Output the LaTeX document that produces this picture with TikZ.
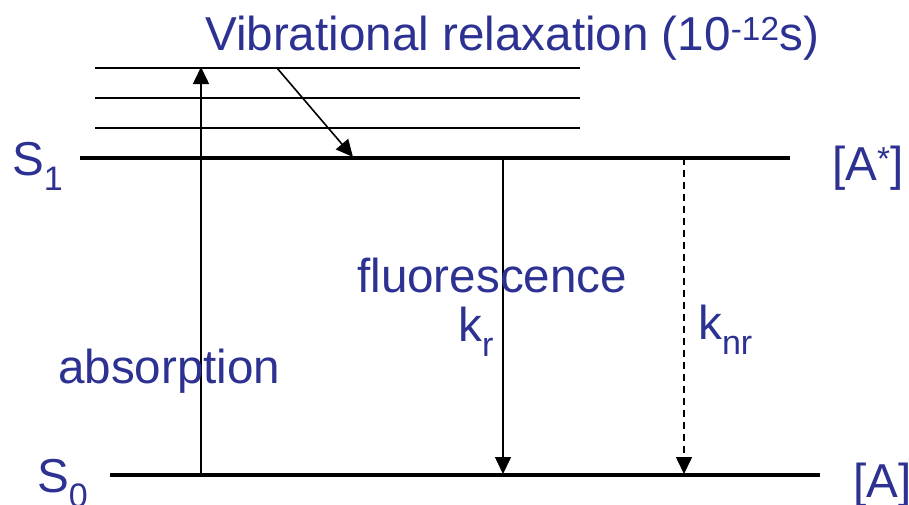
\documentclass[tikz,border=0pt]{standalone}
\usepackage{fontspec}
\setmainfont{Liberation Sans}
\usetikzlibrary{arrows.meta}
\definecolor{lbl}{RGB}{45,49,146}
\newcommand\lowsub[1]{\raisebox{-0.33em}{\fontsize{34}{36}\selectfont #1}}
\begin{document}
\begin{tikzpicture}[x=1pt,y=-1pt,
  lbltext/.style={text=lbl,font=\fontsize{47.6}{57}\selectfont,inner sep=0pt,anchor=base west},
  vib/.style={line width=1.8pt},
  level/.style={line width=4pt},
  trans/.style={line width=1.6pt,-{Triangle[width=16pt,length=17pt]}},
  nonrad/.style={trans,dash pattern=on 7pt off 5pt}]
\useasboundingbox (0,0) rectangle (909,504);
% vibrational levels
\coordinate (v1a) at (95,68);  \coordinate (v1b) at (580,68);
\coordinate (v2a) at (95,98);  \coordinate (v2b) at (580,98);
\coordinate (v3a) at (95,128); \coordinate (v3b) at (580,128);
\draw[vib] (v1a) -- (v1b);
\draw[vib] (v2a) -- (v2b);
\draw[vib] (v3a) -- (v3b);
% electronic levels
\coordinate (s1a) at (80,158);  \coordinate (s1b) at (790,158);
\coordinate (s0a) at (110,475); \coordinate (s0b) at (820,475);
\draw[level] (s1a) -- (s1b);
\draw[level] (s0a) -- (s0b);
% transitions
\coordinate (absB) at (201,475); \coordinate (absT) at (201,67);
\coordinate (relT) at (277,68);  \coordinate (relB) at (353,157);
\coordinate (flT) at (503,158);  \coordinate (flB) at (503,474);
\coordinate (nrT) at (684,158);  \coordinate (nrB) at (684,474);
\draw[trans] (absB) -- (absT);
\draw[trans] (relT) -- (relB);
\draw[trans] (flT) -- (flB);
\draw[nonrad] (nrT) -- (nrB);
% labels
\node[lbltext] (vr) at (205,50) {Vibrational relaxation (10\textsuperscript{-12}s)};
\node[lbltext] (S1) at (12,175) {S\lowsub{1}};
\node[lbltext] (S0) at (37,492) {S\lowsub{0}};
\node[lbltext] (Ast) at (832,180) {[A\textsuperscript{*}]};
\node[lbltext] (A) at (853,497) {[A]};
\node[lbltext] (ab) at (58,383) {absorption};
\node[lbltext] (fl) at (357,292) {fluorescence};
\node[lbltext] (kr) at (458,341) {k\lowsub{r}};
\node[lbltext] (knr) at (698,339) {k\lowsub{nr}};
\end{tikzpicture}
\end{document}
